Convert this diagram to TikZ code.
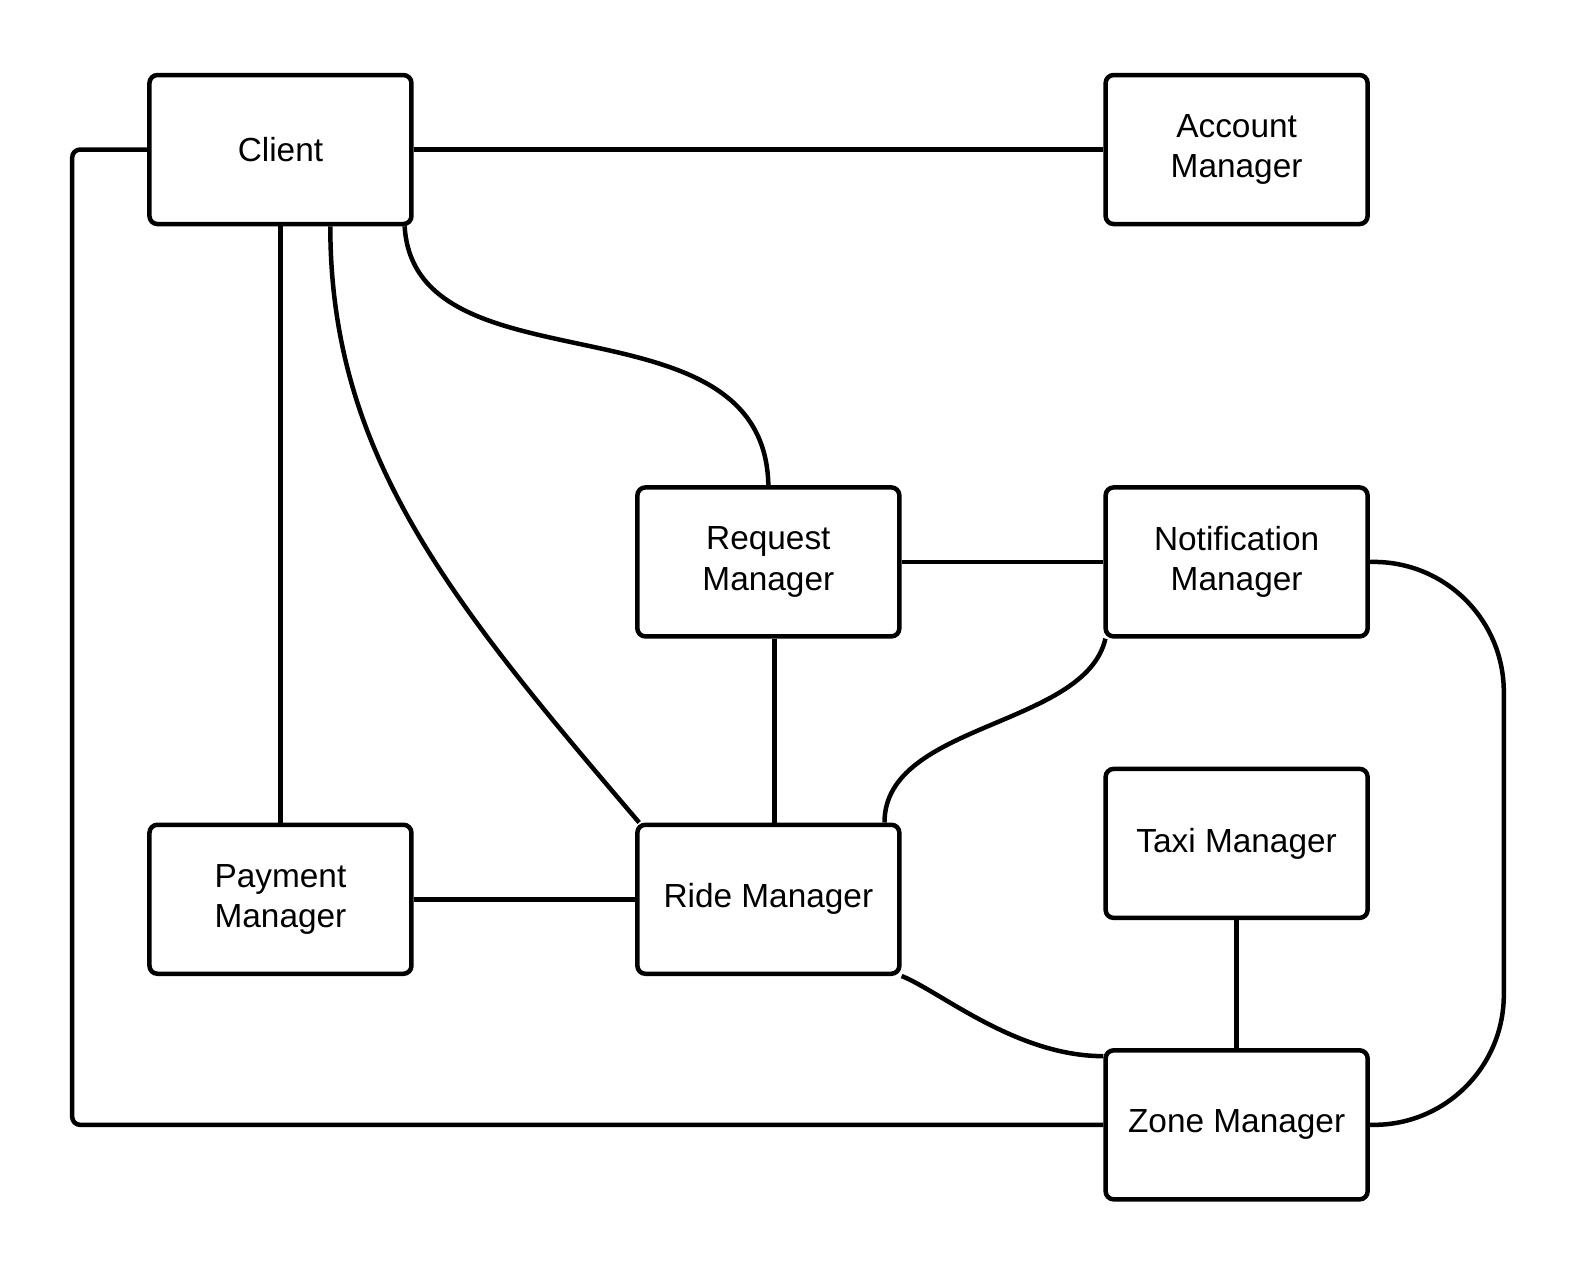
\documentclass[tikz,border=0pt]{standalone}
\usepackage{fontspec}
\setmainfont{Liberation Sans}
\usetikzlibrary{calc}
\begin{document}
\begin{tikzpicture}[x=0.02014cm, y=-0.02014cm, line width=0.09cm,
  box/.style={draw, rounded corners=0.16cm, minimum width=5.24cm, minimum height=2.98cm, align=center, font=\fontsize{19}{23}\selectfont}]
  \useasboundingbox (0,0) rectangle (1568,1266);
  \foreach \n/\x/\y/\t in {Client/278.5/148.5/Client, Account/1228/148.5/{Account\\Manager},
    Request/763/558/{Request\\Manager}, Notification/1228/558/{Notification\\Manager},
    Payment/278.5/893/{Payment\\Manager}, Ride/763/893/{Ride Manager},
    Taxi/1228/837.5/{Taxi Manager}, Zone/1228/1117/{Zone Manager}}
    \node[box] (\n) at (\x,\y) {\t};
  \foreach \a/\b in {Client.east/Account.west, Client.south/Payment.north, Request.east/Notification.west,
    Payment.east/Ride.west, Taxi.south/Zone.north}
    \draw (\a) -- (\b);
  \draw ($(Request.south)+(6,0)$) -- ($(Ride.north)+(6,0)$);
  \draw ($(Client.south east)+(-9,0)$) .. controls +(10,168) and +(-4,-194) .. (Request.north);
  \draw ($(Client.south)+(49.5,0)$) .. controls +(0,228) and +(-187,-219) .. ($(Ride.north west)+(4,0)$);
  \draw ($(Notification.south west)+(2,0)$) .. controls +(-20,88) and +(0,-99) .. ($(Ride.north east)+(-17,0)$);
  \draw (Ride.south east) .. controls +(38,15) and +(-87,0) .. ($(Zone.north west)+(0,8)$);
  \draw[rounded corners=2.6cm] (Notification.east) -- ++(133,0) |- (Zone.east);
  \draw[rounded corners=0.16cm] (Client.west) -- ++(-74.5,0) |- (Zone.west);
\end{tikzpicture}
\end{document}
